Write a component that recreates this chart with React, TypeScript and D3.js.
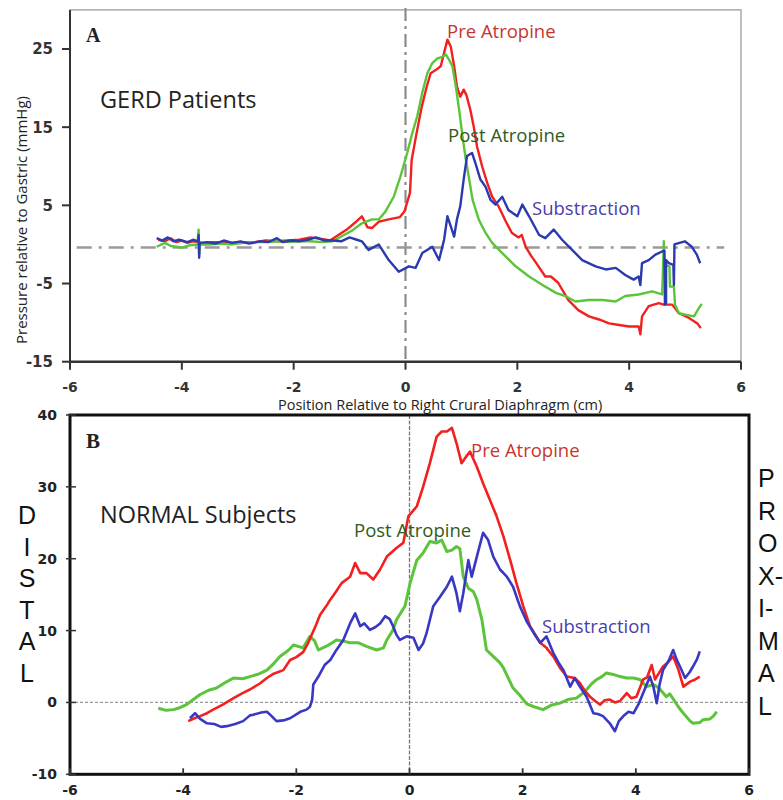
import React from "react";
import * as d3 from "d3";

// ---------- Tick values ----------
const xTicks = [-6, -4, -2, 0, 2, 4, 6];
const gerdYTicks = [-15, -5, 5, 15, 25];
const normYTicks = [-10, 0, 10, 20, 30, 40];

// ---------- Panel A: GERD patients ----------
const gerdPre: [number, number][] = [
  [-4.42, 0.6], [-4.3, 0.4], [-4.2, 0.8], [-4.1, 0.3], [-4.0, 0.5], [-3.9, 0.2], [-3.8, 0.4], [-3.7, 0.3],
  [-3.6, 0.1], [-3.5, 0.3], [-3.3, 0.3], [-3.1, 0.2], [-2.9, 0.3], [-2.7, 0.3], [-2.5, 0.5], [-2.3, 0.4],
  [-2.1, 0.5], [-1.9, 0.6], [-1.7, 0.9], [-1.5, 0.7], [-1.35, 0.5], [-1.2, 1.2], [-1.05, 1.9], [-0.9, 2.8],
  [-0.78, 3.6], [-0.68, 2.2], [-0.6, 2.1], [-0.48, 2.9], [-0.3, 3.2], [-0.1, 3.5], [-0.02, 4.2], [0.08, 6.6],
  [0.11, 10.8], [0.2, 14.3], [0.29, 17.6], [0.38, 20.2], [0.45, 21.9], [0.54, 22.3], [0.63, 22.8], [0.69, 24.5],
  [0.75, 26.2], [0.81, 25.3], [0.87, 22.8], [0.92, 20.2], [0.98, 18.9], [1.04, 19.8], [1.09, 19.1], [1.16, 17.2],
  [1.22, 15.1], [1.28, 12.5], [1.37, 10.0], [1.46, 7.9], [1.55, 6.1], [1.67, 4.8], [1.79, 3.0], [1.9, 1.5],
  [2.02, 0.9], [2.08, 1.2], [2.15, -0.3], [2.25, -1.5], [2.33, -2.3], [2.5, -4.1], [2.6, -4.1], [2.73, -4.9],
  [2.91, -7.1], [3.09, -8.4], [3.28, -9.2], [3.46, -9.6], [3.64, -10.1], [3.82, -10.3], [4.0, -10.5], [4.17, -10.5],
  [4.2, -11.5], [4.23, -9.2], [4.35, -7.9], [4.53, -7.5], [4.62, -7.7], [4.77, -7.7], [4.89, -8.8], [5.07, -9.4],
  [5.22, -10.1], [5.28, -10.7],
];

const gerdPost: [number, number][] = [
  [-4.45, -0.3], [-4.3, 0.2], [-4.2, -0.2], [-4.0, -0.4], [-3.85, -0.1], [-3.72, 0.0], [-3.7, 1.9], [-3.69, -1.3],
  [-3.68, 0.0], [-3.5, 0.0], [-3.3, 0.1], [-3.1, 0.0], [-2.9, 0.2], [-2.7, 0.3], [-2.5, 0.3], [-2.3, 0.4],
  [-2.1, 0.3], [-1.9, 0.4], [-1.7, 0.4], [-1.5, 0.3], [-1.3, 0.4], [-1.1, 1.2], [-0.95, 1.8], [-0.78, 2.7],
  [-0.6, 3.2], [-0.48, 3.2], [-0.36, 4.2], [-0.21, 6.1], [-0.09, 8.7], [0.03, 11.7], [0.12, 14.2], [0.21, 16.4],
  [0.3, 19.4], [0.39, 21.9], [0.48, 23.2], [0.57, 23.8], [0.66, 24.0], [0.72, 24.3], [0.78, 23.6], [0.84, 22.8],
  [0.9, 20.2], [0.96, 17.2], [1.02, 13.8], [1.08, 10.8], [1.14, 8.3], [1.2, 5.7], [1.31, 3.2], [1.43, 1.5],
  [1.55, 0.2], [1.73, -1.1], [1.97, -2.8], [2.21, -4.1], [2.45, -5.2], [2.69, -6.2], [2.86, -6.6], [3.04, -7.3],
  [3.28, -7.1], [3.52, -7.1], [3.76, -7.3], [3.93, -6.6], [4.17, -6.4], [4.41, -6.0], [4.59, -6.4], [4.62, 0.4],
  [4.63, -2.6], [4.72, -2.8], [4.73, -5.4], [4.8, -5.4], [4.82, -7.7], [4.89, -8.8], [5.01, -9.0], [5.16, -9.2],
  [5.25, -8.1], [5.3, -7.6],
];

const gerdSub: [number, number][] = [
  [-4.45, 0.8], [-4.35, 0.5], [-4.25, 0.9], [-4.15, 0.4], [-4.05, 0.6], [-3.9, 0.3], [-3.8, 0.6], [-3.71, 0.4],
  [-3.7, 1.2], [-3.69, -1.7], [-3.68, 0.2], [-3.55, 0.3], [-3.4, 0.1], [-3.25, 0.5], [-3.1, 0.2], [-2.95, 0.4],
  [-2.8, 0.1], [-2.6, 0.4], [-2.45, 0.3], [-2.3, 0.8], [-2.2, 0.3], [-2.05, 0.5], [-1.9, 0.4], [-1.75, 0.6],
  [-1.6, 0.9], [-1.45, 0.5], [-1.3, 0.5], [-1.15, 0.4], [-1.0, 0.9], [-0.87, 0.6], [-0.78, 0.4], [-0.66, -0.7],
  [-0.48, 0.0], [-0.3, -2.0], [-0.12, -3.5], [0.06, -2.8], [0.18, -3.0], [0.3, -1.1], [0.48, -0.3], [0.6, -2.0],
  [0.69, 0.6], [0.75, 3.6], [0.81, 2.3], [0.87, 1.0], [0.92, 3.2], [0.98, 4.9], [1.04, 8.3], [1.1, 11.3],
  [1.19, 11.7], [1.25, 10.4], [1.34, 8.3], [1.43, 7.4], [1.52, 5.7], [1.61, 5.1], [1.73, 6.1], [1.84, 4.4],
  [2.0, 3.6], [2.09, 5.1], [2.21, 3.6], [2.39, 1.2], [2.5, 0.8], [2.65, 1.9], [2.8, 0.6], [2.98, -0.7],
  [3.16, -2.0], [3.4, -2.8], [3.58, -3.2], [3.76, -3.0], [3.93, -3.9], [4.08, -4.5], [4.17, -4.1], [4.2, -5.2],
  [4.23, -2.4], [4.35, -2.0], [4.47, -1.3], [4.59, -0.9], [4.63, -0.8], [4.64, -7.7], [4.66, -7.5], [4.66, -2.0],
  [4.71, -2.4], [4.79, -2.6], [4.8, -5.2], [4.81, 0.0], [4.9, 0.2], [5.0, 0.4], [5.12, -0.3], [5.21, -1.3],
  [5.27, -2.4],
];

// ---------- Panel B: normal subjects ----------
const normPre: [number, number][] = [
  [-3.91, -2.6], [-3.8, -2.2], [-3.7, -1.9], [-3.58, -1.5], [-3.47, -1.0], [-3.3, -0.3], [-3.11, 0.6], [-2.95, 1.3],
  [-2.82, 1.8], [-2.65, 2.6], [-2.52, 3.4], [-2.4, 4.0], [-2.23, 4.5], [-2.11, 5.9], [-2.0, 6.3], [-1.88, 7.0],
  [-1.79, 8.3], [-1.73, 9.4], [-1.65, 10.8], [-1.58, 12.2], [-1.48, 13.3], [-1.4, 14.3], [-1.3, 15.4], [-1.2, 16.6],
  [-1.05, 17.5], [-0.96, 19.4], [-0.87, 18.0], [-0.76, 18.0], [-0.64, 17.1], [-0.52, 18.5], [-0.4, 20.3], [-0.3, 21.0],
  [-0.23, 21.5], [-0.11, 22.2], [-0.02, 25.9], [0.13, 27.3], [0.24, 30.0], [0.36, 33.3], [0.48, 37.0], [0.57, 37.7],
  [0.66, 37.7], [0.75, 38.2], [0.83, 36.1], [0.92, 33.3], [1.0, 34.2], [1.07, 34.9], [1.19, 32.8], [1.3, 30.5],
  [1.42, 28.2], [1.54, 25.9], [1.66, 23.1], [1.78, 19.8], [1.89, 16.6], [2.01, 13.4], [2.13, 10.6], [2.31, 8.3],
  [2.42, 7.6], [2.54, 6.4], [2.66, 4.8], [2.78, 3.6], [2.92, 3.4], [3.01, 2.7], [3.1, 1.6], [3.19, 0.8],
  [3.28, 0.2], [3.37, -0.3], [3.45, 0.3], [3.54, 0.4], [3.63, 0.0], [3.72, 0.2], [3.84, 1.3], [3.92, 0.6],
  [4.01, 0.8], [4.13, 3.2], [4.2, 3.5], [4.28, 5.2], [4.34, 3.2], [4.48, 5.0], [4.57, 5.6], [4.66, 6.4],
  [4.75, 4.6], [4.84, 2.2], [4.96, 2.9], [5.05, 3.2], [5.13, 3.6],
];

const normPost: [number, number][] = [
  [-4.44, -0.8], [-4.3, -1.1], [-4.17, -1.0], [-4.05, -0.7], [-3.94, -0.3], [-3.82, 0.4], [-3.7, 1.1], [-3.55, 1.7],
  [-3.41, 2.0], [-3.25, 2.8], [-3.11, 3.4], [-2.95, 3.3], [-2.82, 3.6], [-2.65, 4.0], [-2.52, 4.5], [-2.4, 5.4],
  [-2.29, 6.4], [-2.15, 7.2], [-2.05, 8.0], [-1.88, 7.6], [-1.76, 9.2], [-1.68, 8.6], [-1.61, 7.3], [-1.45, 7.9],
  [-1.29, 8.7], [-1.15, 8.5], [-1.05, 8.3], [-0.9, 8.3], [-0.76, 7.8], [-0.58, 7.3], [-0.46, 7.6], [-0.4, 8.7],
  [-0.29, 10.1], [-0.23, 11.5], [-0.08, 13.4], [0.01, 16.6], [0.13, 19.8], [0.24, 20.8], [0.36, 22.4], [0.48, 22.2],
  [0.57, 22.6], [0.66, 21.0], [0.75, 21.2], [0.83, 21.7], [0.89, 21.4], [0.95, 17.5], [1.04, 15.9], [1.13, 15.4],
  [1.19, 14.3], [1.28, 11.5], [1.36, 7.3], [1.48, 6.4], [1.6, 5.5], [1.66, 4.8], [1.83, 2.0], [1.95, 1.0],
  [2.07, -0.2], [2.2, -0.6], [2.36, -1.0], [2.5, -0.4], [2.66, -0.1], [2.8, 0.4], [2.95, 0.6], [3.05, 1.2],
  [3.13, 1.8], [3.22, 2.6], [3.31, 3.2], [3.4, 3.6], [3.48, 4.1], [3.6, 3.9], [3.72, 3.6], [3.84, 3.4],
  [3.96, 3.4], [4.07, 3.2], [4.19, 2.2], [4.31, 2.5], [4.37, 2.2], [4.43, 1.8], [4.54, 0.8], [4.6, 1.2],
  [4.66, 0.5], [4.75, -0.6], [4.84, -1.5], [4.96, -2.6], [5.01, -2.9], [5.13, -2.8], [5.19, -2.4], [5.31, -2.3],
  [5.37, -1.9], [5.43, -1.3],
];

const normSub: [number, number][] = [
  [-3.88, -2.2], [-3.79, -1.5], [-3.7, -2.3], [-3.58, -2.9], [-3.45, -3.0], [-3.33, -3.4], [-3.23, -3.3], [-3.08, -3.0],
  [-2.94, -2.6], [-2.82, -1.8], [-2.76, -1.7], [-2.62, -1.4], [-2.52, -1.3], [-2.45, -1.8], [-2.35, -2.6], [-2.23, -2.5],
  [-2.11, -2.2], [-1.93, -1.3], [-1.82, -1.0], [-1.76, -0.6], [-1.72, 0.4], [-1.7, 2.5], [-1.61, 3.6], [-1.5, 5.2],
  [-1.4, 5.9], [-1.3, 7.2], [-1.17, 8.7], [-1.05, 11.0], [-0.96, 12.4], [-0.87, 10.6], [-0.8, 11.0], [-0.7, 10.1],
  [-0.6, 10.5], [-0.52, 11.0], [-0.43, 12.0], [-0.35, 11.6], [-0.29, 10.6], [-0.23, 9.4], [-0.17, 8.7], [-0.05, 9.2],
  [0.07, 9.0], [0.16, 7.3], [0.24, 8.2], [0.3, 9.6], [0.42, 13.4], [0.54, 14.7], [0.66, 16.1], [0.75, 17.5],
  [0.83, 15.2], [0.89, 12.7], [0.95, 15.2], [1.04, 19.8], [1.1, 17.5], [1.19, 20.3], [1.3, 23.6], [1.39, 22.6],
  [1.48, 20.3], [1.6, 18.5], [1.72, 17.5], [1.83, 16.1], [1.95, 13.4], [2.07, 11.3], [2.2, 9.6], [2.31, 8.3],
  [2.42, 9.2], [2.54, 6.9], [2.63, 5.6], [2.72, 4.5], [2.84, 2.2], [2.92, 3.4], [3.01, 2.2], [3.13, 0.8],
  [3.25, -1.5], [3.33, -1.6], [3.42, -1.9], [3.54, -2.9], [3.63, -4.0], [3.7, -2.6], [3.78, -1.9], [3.87, -1.3],
  [3.96, -1.5], [4.05, -0.2], [4.13, 1.3], [4.25, 3.6], [4.31, 2.2], [4.37, -0.1], [4.42, 2.5], [4.48, 4.5],
  [4.58, 5.8], [4.66, 7.3], [4.72, 6.0], [4.78, 5.0], [4.87, 3.4], [4.95, 4.2], [5.01, 5.0], [5.08, 6.0],
  [5.13, 7.1],
];

const gerdBaseline = -0.4;
const distalLetters = ["D", "I", "S", "T", "A", "L"];
const proximalLetters = ["P", "R", "O", "X-", "I-", "M", "A", "L"];

const RED = "#f2201e";
const GREEN = "#5cc43a";
const BLUE_A = "#2b3aae";
const BLUE_B = "#3838c4";
const LBL_RED = "#c7352f";
const LBL_GREEN = "#2f5b22";
const LBL_BLUE = "#4a40a8";

const labelFont = "'Open Sans', Lato, sans-serif";
const tickFont = "'DejaVu Sans', Verdana, sans-serif";

export default function App() {
  // Panel A scales
  const xA = d3.scaleLinear().domain([-6, 6]).range([70, 741]);
  const yA = d3.scaleLinear().domain([-15, 30]).range([361.7, 9.9]);
  // Panel B scales
  const xB = d3.scaleLinear().domain([-6, 6]).range([70, 749]);
  const yB = d3.scaleLinear().domain([-10, 40]).range([774.3, 415]);

  const lineA = d3.line<[number, number]>().x((d) => xA(d[0])).y((d) => yA(d[1]));
  const lineB = d3.line<[number, number]>().x((d) => xB(d[0])).y((d) => yB(d[1]));

  return (
    <svg
      width={783}
      height={800}
      style={{ position: "absolute", left: 0, top: 0, background: "#fff" }}
    >
      {/* ================= Panel A ================= */}
      <rect x={xA(-6)} y={yA(30)} width={xA(6) - xA(-6)} height={yA(-15) - yA(30)} fill="none" stroke="#aaa" strokeWidth={1.5} />
      {/* reference lines */}
      <line x1={xA(0)} x2={xA(0)} y1={yA(30) - 2} y2={yA(-15)} stroke="#8c8c8c" strokeWidth={2.2} strokeDasharray="13,5,3,5" />
      <line x1={xA(-5.88)} x2={xA(5.7)} y1={yA(gerdBaseline)} y2={yA(gerdBaseline)} stroke="#9a9a9a" strokeWidth={2.5} strokeDasharray="15,7,3,7" />
      {/* axes */}
      <line x1={xA(-6)} x2={xA(-6)} y1={yA(30)} y2={yA(-15)} stroke="#333" strokeWidth={2} />
      <line x1={xA(-6)} x2={xA(6)} y1={yA(-15)} y2={yA(-15)} stroke="#333" strokeWidth={2.5} />
      {gerdYTicks.map((t) => (
        <g key={"ya" + t}>
          <line x1={xA(-6) - 8} x2={xA(-6)} y1={yA(t)} y2={yA(t)} stroke="#333" strokeWidth={2} />
          <text x={53} y={yA(t) + 5.5} textAnchor="end" fontFamily={tickFont} fontWeight="bold" fontSize={15} fill="#333">{t}</text>
        </g>
      ))}
      {xTicks.map((t) => (
        <g key={"xa" + t}>
          <line x1={xA(t)} x2={xA(t)} y1={yA(-15)} y2={yA(-15) + 8} stroke="#333" strokeWidth={2} />
          <text x={xA(t)} y={391.5} textAnchor="middle" fontFamily={tickFont} fontWeight="bold" fontSize={14} fill="#333">{t}</text>
        </g>
      ))}
      {/* series */}
      <path d={lineA(gerdPre) || ""} fill="none" stroke={RED} strokeWidth={2.4} strokeLinejoin="round" />
      <path d={lineA(gerdPost) || ""} fill="none" stroke={GREEN} strokeWidth={2.4} strokeLinejoin="round" />
      <path d={lineA(gerdSub) || ""} fill="none" stroke={BLUE_A} strokeWidth={2.4} strokeLinejoin="round" />
      {/* labels */}
      <text x={86} y={42} fontFamily="'Liberation Serif', 'Times New Roman', serif" fontWeight="bold" fontSize={20} fill="#222">A</text>
      <text x={100} y={108} fontFamily={labelFont} fontSize={23.5} fill="#222">GERD Patients</text>
      <text x={447} y={38} fontFamily={labelFont} fontSize={18.5} fill={LBL_RED}>Pre Atropine</text>
      <text x={448} y={141.5} fontFamily={labelFont} fontSize={18.5} fill={LBL_GREEN}>Post Atropine</text>
      <text x={532} y={215} fontFamily={labelFont} fontSize={18.5} fill={LBL_BLUE}>Substraction</text>
      <text x={278} y={410} fontFamily={labelFont} fontSize={14.5} fill="#222">Position Relative to Right Crural Diaphragm (cm)</text>
      <text transform={`translate(27,344) rotate(-90)`} fontFamily={labelFont} fontSize={15} fill="#222">Pressure relative to Gastric (mmHg)</text>

      {/* ================= Panel B ================= */}
      <line x1={xB(-6)} x2={xB(6)} y1={yB(0)} y2={yB(0)} stroke="#999" strokeWidth={1.3} strokeDasharray="3,2" />
      <line x1={xB(0)} x2={xB(0)} y1={yB(40)} y2={yB(-10)} stroke="#777" strokeWidth={1.3} strokeDasharray="4,1.5" />
      <path d={lineB(normPost) || ""} fill="none" stroke={GREEN} strokeWidth={3} strokeLinejoin="round" />
      <path d={lineB(normPre) || ""} fill="none" stroke={RED} strokeWidth={2.6} strokeLinejoin="round" />
      <path d={lineB(normSub) || ""} fill="none" stroke={BLUE_B} strokeWidth={2.6} strokeLinejoin="round" />
      <rect x={xB(-6)} y={yB(40)} width={xB(6) - xB(-6)} height={yB(-10) - yB(40)} fill="none" stroke="#111" strokeWidth={3} />
      {normYTicks.map((t) => (
        <g key={"yb" + t}>
          <line x1={xB(-6) - 4} x2={xB(-6) + 6} y1={yB(t)} y2={yB(t)} stroke="#333" strokeWidth={1.5} />
          <text x={57} y={yB(t) + 5} textAnchor="end" fontFamily={tickFont} fontWeight="bold" fontSize={14} fill="#222">{t}</text>
        </g>
      ))}
      {xTicks.map((t) => (
        <g key={"xb" + t}>
          <line x1={xB(t)} x2={xB(t)} y1={yB(-10)} y2={yB(-10) - 6} stroke="#333" strokeWidth={1.8} />
          <text x={xB(t)} y={795} textAnchor="middle" fontFamily={tickFont} fontWeight="bold" fontSize={14} fill="#222">{t}</text>
        </g>
      ))}
      <text x={86} y={448} fontFamily="'Liberation Serif', 'Times New Roman', serif" fontWeight="bold" fontSize={21} fill="#222">B</text>
      <text x={100} y={522.5} fontFamily={labelFont} fontSize={23.5} fill="#222">NORMAL Subjects</text>
      <text x={471} y={456.5} fontFamily={labelFont} fontSize={18.5} fill={LBL_RED}>Pre Atropine</text>
      <text x={354} y={536.5} fontFamily={labelFont} fontSize={18.5} fill={LBL_GREEN}>Post Atropine</text>
      <text x={542} y={633} fontFamily={labelFont} fontSize={18.5} fill={LBL_BLUE}>Substraction</text>
      {distalLetters.map((l, i) => (
        <text key={"d" + i} x={27} y={515 + i * 31.6 + 9} textAnchor="middle" fontFamily="'Liberation Sans', Arial, sans-serif" fontSize={25} fill="#111">{l}</text>
      ))}
      {proximalLetters.map((l, i) => (
        <text key={"p" + i} x={758} y={478 + i * 32.5 + 9} fontFamily="'Liberation Sans', Arial, sans-serif" fontSize={25} fill="#111">{l}</text>
      ))}
    </svg>
  );
}
